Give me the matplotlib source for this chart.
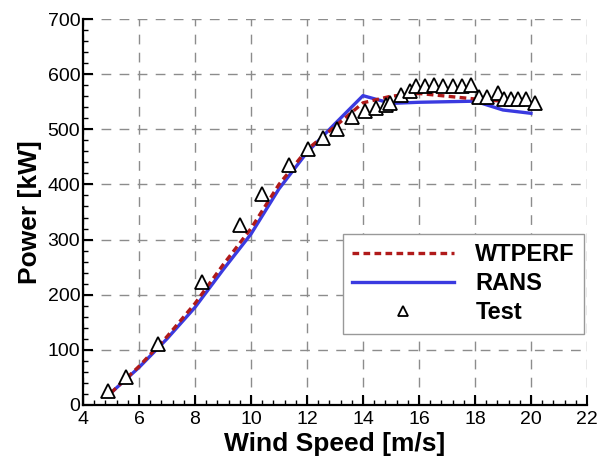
import numpy as np
import matplotlib.pyplot as plt
from matplotlib.ticker import MultipleLocator

# Fonts
plt.rcParams['font.family'] = ['Liberation Sans', 'DejaVu Sans']
tick_size = 14
label_size = 19
legend_size = 17

# WTPERF prediction
wtperf_speed = [5, 6, 7, 8, 9, 10, 11, 12, 13, 14, 15, 16, 17, 18, 19, 20]
wtperf_power = [22, 70, 124, 184, 254, 320, 400, 463, 505, 548, 560, 565, 560, 555, 551, 548]

# RANS prediction
rans_speed = [5, 6, 7, 8, 9, 10, 11, 12, 13, 14, 15, 16, 17, 18, 19, 20]
rans_power = [22, 68, 120, 177, 245, 310, 392, 458, 510, 561, 547, 549, 550, 551, 535, 529]

# Measured data
test_speed = [4.88, 5.52, 6.67, 8.25, 9.62, 10.4, 11.37, 12.02, 12.58, 13.08, 13.62,
              14.08, 14.46, 14.82, 14.98, 15.37, 15.67, 15.88, 16.2, 16.55, 16.87,
              17.2, 17.52, 17.85, 18.14, 18.44, 18.82, 19.04, 19.28, 19.55, 19.84, 20.16]
test_power = [26, 50, 111, 223, 326, 383, 435, 465, 484, 501, 522,
              534, 539, 544, 548, 562, 570, 578, 578, 580, 578,
              578, 578, 580, 559, 559, 565, 555, 555, 555, 555, 548]

fig = plt.figure(figsize=(6.03, 4.57), dpi=100)
ax = fig.add_axes([0.1376, 0.1138, 0.8358, 0.8446])

ax.plot(wtperf_speed, wtperf_power, color='#b01a1a', lw=2.4,
        linestyle=(0, (2.0, 1.3)), label='WTPERF', zorder=3)
ax.plot(rans_speed, rans_power, color='#3a3ae0', lw=2.4, label='RANS', zorder=2)
ax.plot(test_speed, test_power, linestyle='none', marker='^', ms=10,
        mfc='white', mec='black', mew=1.3, label='Test', zorder=4)

ax.set_xlim(4, 22)
ax.set_ylim(0, 700)
ax.xaxis.set_major_locator(MultipleLocator(2))
ax.xaxis.set_minor_locator(MultipleLocator(0.4))
ax.yaxis.set_major_locator(MultipleLocator(100))
ax.yaxis.set_minor_locator(MultipleLocator(20))

# Only left and bottom axes drawn
for side in ['top', 'right']:
    ax.spines[side].set_visible(False)
for side in ['left', 'bottom']:
    ax.spines[side].set_linewidth(1.6)

ax.tick_params(which='major', direction='in', length=7, width=1.5,
               labelsize=tick_size)
ax.tick_params(axis='x', which='major', pad=4)
ax.tick_params(axis='y', which='major', pad=2)
ax.tick_params(which='minor', direction='in', length=3.5, width=1.0)

ax.grid(True, which='major', color='#8c8c8c', lw=1.0, linestyle=(0, (7, 6)))
ax.set_axisbelow(True)

ax.set_xlabel('Wind Speed [m/s]', fontsize=label_size, fontweight='bold', labelpad=3)
ax.set_ylabel('Power [kW]', fontsize=label_size, fontweight='bold', labelpad=4)

leg = ax.legend(loc='upper left', bbox_to_anchor=(0.516, 0.443), borderaxespad=0,
                fancybox=False, framealpha=1, edgecolor='#999999',
                handlelength=4.3, handletextpad=0.9, markerscale=0.75,
                borderpad=0.4, labelspacing=0.25,
                prop={'weight': 'bold', 'size': legend_size})
leg.get_frame().set_linewidth(1.0)

plt.savefig('out.png', dpi=100)
